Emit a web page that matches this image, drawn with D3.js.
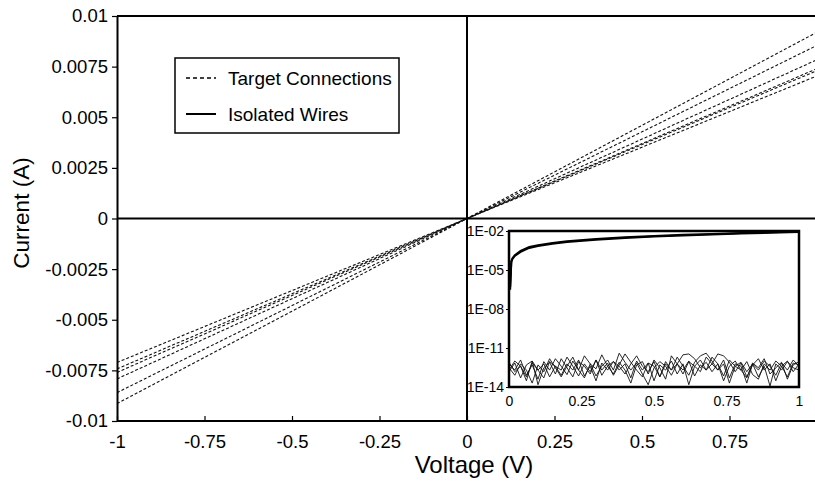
<!DOCTYPE html>
<html>
<head>
<meta charset="utf-8">
<script src="https://cdn.jsdelivr.net/npm/d3@7"></script>
<style>
  body { margin: 0; background: #fff; }
  text { font-family: "Liberation Sans", Arial, sans-serif; fill: #000; }
</style>
</head>
<body>
<svg id="chart"></svg>
<script>
// main I-V data: voltages and currents (A) for the six target connections
const mainV = [-1, -0.5, 0, 0.5, 1];
const target1 = [-0.00914, -0.00458, 0, 0.0046, 0.0092];
const target2 = [-0.0086, -0.0043, 0, 0.00428, 0.00855];
const target3 = [-0.00792, -0.00396, 0, 0.00392, 0.00784];
const target4 = [-0.0076, -0.0038, 0, 0.0037, 0.0074];
const target5 = [-0.00743, -0.00372, 0, 0.00365, 0.0073];
const target6 = [-0.00711, -0.00356, 0, 0.00352, 0.00704];

// axis ticks
const xTicks = [-1, -0.75, -0.5, -0.25, 0, 0.25, 0.5, 0.75];
const xTickLabels = ["-1", "-0.75", "-0.5", "-0.25", "0", "0.25", "0.5", "0.75"];
const yTicks = [0.01, 0.0075, 0.005, 0.0025, 0, -0.0025, -0.005, -0.0075, -0.01];
const yTickLabels = ["0.01", "0.0075", "0.005", "0.0025", "0", "-0.0025", "-0.005", "-0.0075", "-0.01"];

// inset (log scale): target connections near the top
const insetV = [0.004, 0.008, 0.012, 0.02, 0.04, 0.07, 0.1, 0.15, 0.2, 0.3, 0.4, 0.5, 0.6, 0.7, 0.8, 0.9, 1.0];
const insetTopA = [3e-7, 4e-5, 7e-5, 1.2e-4, 2.5e-4, 5e-4, 7e-4, 1.05e-3, 1.4e-3, 2.1e-3, 2.9e-3, 3.7e-3, 4.5e-3, 5.4e-3, 6.3e-3, 7.2e-3, 8.2e-3];
const insetTopB = [5e-7, 5e-5, 8e-5, 1.4e-4, 3e-4, 5.8e-4, 8e-4, 1.2e-3, 1.6e-3, 2.4e-3, 3.3e-3, 4.2e-3, 5.1e-3, 6e-3, 7e-3, 8e-3, 9e-3];

// inset: isolated wires, noise floor, sampled every 0.02 V from 0 to 1
const noise1 = [3e-13, 8e-14, 6e-13, 2e-13, 2e-14, 5e-13, 1.5e-13, 1.5e-12, 3e-13, 6e-14,
  4e-13, 2e-12, 2e-13, 5e-14, 6e-13, 2.5e-13, 3e-12, 4e-13, 1e-13, 8e-13,
  2e-13, 2e-14, 5e-13, 9e-13, 1e-13, 1.2e-12, 3e-13, 4e-14, 2.5e-12, 6e-13,
  2e-13, 1e-12, 7e-14, 5e-13, 2e-13, 2e-12, 6e-13, 3e-14, 4e-13, 1e-12,
  2e-13, 5e-14, 7e-13, 3e-13, 1.5e-12, 1e-13, 3e-13, 8e-13, 4e-14, 5e-13, 9e-13];
const noise2 = [1.5e-13, 7e-13, 5e-14, 5e-13, 1e-12, 1.5e-14, 3e-13, 8e-13, 1e-13, 1.5e-12,
  3e-13, 6e-14, 9e-13, 4e-13, 1e-13, 1.2e-12, 2e-13, 7e-13, 8e-14, 5e-13,
  3.5e-12, 8e-13, 2e-13, 6e-14, 7e-13, 3e-14, 5e-13, 2e-13, 1e-12, 1e-13,
  6e-13, 1.5e-14, 4e-13, 1.2e-12, 2e-13, 6e-13, 3.5e-12, 2.5e-12, 8e-13, 1.5e-13,
  7e-13, 6e-14, 5e-13, 1.5e-12, 2e-13, 6e-13, 3e-14, 4e-13, 1e-12, 1.5e-13, 6e-13];
const noise3 = [6e-13, 2e-13, 1.2e-12, 8e-14, 5e-13, 4e-14, 9e-13, 2e-13, 1.5e-12, 4e-13,
  9e-14, 1e-12, 2e-13, 2.5e-12, 6e-13, 7e-14, 4e-13, 1.2e-12, 2e-13, 4e-12,
  8e-13, 2e-13, 7e-13, 1e-13, 1.5e-14, 3e-13, 9e-13, 4e-13, 8e-14, 6e-13,
  3e-12, 3.5e-12, 1.5e-12, 3e-13, 8e-13, 1.5e-13, 6e-13, 7e-14, 1.2e-12, 4e-13,
  2e-13, 9e-13, 9e-14, 4e-14, 6e-13, 2e-13, 1e-12, 4e-13, 6e-14, 7e-13, 5e-13];
const noise4 = [2e-13, 1e-12, 4e-13, 6e-14, 7e-13, 2e-13, 5e-14, 9e-13, 4e-13, 8e-14,
  6e-13, 2e-13, 1.2e-12, 7e-14, 4e-13, 3e-14, 7e-13, 2e-13, 9e-13, 4e-13,
  1e-13, 6e-13, 2.5e-12, 4e-13, 1.5e-13, 9e-13, 6e-14, 6e-13, 2e-13, 2e-12,
  4e-13, 8e-14, 8e-13, 2.5e-12, 4e-12, 1e-12, 2e-13, 6e-13, 2e-14, 4e-13,
  8e-13, 1.5e-13, 6e-13, 6e-14, 4e-13, 1.2e-14, 6e-13, 2e-13, 9e-13, 3e-13, 2e-13];
const noise5 = [8e-13, 1.5e-13, 4e-13, 3e-14, 1e-12, 2e-13, 6e-13, 6e-14, 4e-13, 2e-13,
  2e-12, 4e-13, 7e-14, 6e-13, 1.5e-13, 1.2e-12, 8e-14, 4e-13, 9e-13, 2e-13,
  6e-13, 5e-14, 1e-12, 2e-13, 7e-13, 4e-13, 6e-14, 9e-13, 2e-13, 6e-13,
  1e-13, 9e-13, 4e-13, 1.5e-13, 2e-12, 6e-13, 2e-13, 1.2e-12, 5e-14, 6e-13,
  4e-13, 2e-14, 6e-13, 2e-13, 1e-12, 4e-13, 8e-14, 7e-13, 2e-13, 1.2e-12, 4e-13];
const noiseV = d3.range(51).map(i => i * 0.02);

const insetYTicks = [1e-2, 1e-5, 1e-8, 1e-11, 1e-14];
const insetYTickLabels = ["1E-02", "1E-05", "1E-08", "1E-11", "1E-14"];
const insetXTicks = [0, 0.25, 0.5, 0.75, 1];
const insetXTickLabels = ["0", "0.25", "0.5", "0.75", "1"];

const legendLabels = ["Target Connections", "Isolated Wires"];

// dimensions
const width = 815;
const height = 484;
const plot = {left: 117, right: 815, top: 16, bottom: 421};
const inset = {left: 509, right: 799, top: 231, bottom: 387};

const svg = d3.select('#chart')
  .attr('width', width)
  .attr('height', height);

// scales
const xScale = d3.scaleLinear().domain([-1, 1]).range([plot.left, 817]);
const yScale = d3.scaleLinear().domain([-0.01, 0.01]).range([plot.bottom, plot.top]);

svg.append('clipPath').attr('id', 'plot-clip')
  .append('rect')
  .attr('x', plot.left).attr('y', plot.top)
  .attr('width', plot.right - plot.left).attr('height', plot.bottom - plot.top);

// dashed target lines
const targets = [target1, target2, target3, target4, target5, target6];
const mainLine = d3.line()
  .x((d, i) => xScale(mainV[i]))
  .y(d => yScale(d));

svg.append('g')
  .attr('clip-path', 'url(#plot-clip)')
  .selectAll('path')
  .data(targets)
  .enter()
  .append('path')
  .attr('d', mainLine)
  .attr('fill', 'none')
  .attr('stroke', '#111')
  .attr('stroke-width', 1.1)
  .attr('stroke-dasharray', '3,2');

// zero lines and top border
svg.append('line')
  .attr('x1', plot.left).attr('x2', plot.right)
  .attr('y1', yScale(0)).attr('y2', yScale(0))
  .attr('stroke', '#000').attr('stroke-width', 2);
svg.append('line')
  .attr('x1', xScale(0)).attr('x2', xScale(0))
  .attr('y1', plot.top).attr('y2', plot.bottom)
  .attr('stroke', '#000').attr('stroke-width', 2);
svg.append('line')
  .attr('x1', plot.left).attr('x2', plot.right)
  .attr('y1', plot.top).attr('y2', plot.top)
  .attr('stroke', '#000').attr('stroke-width', 2);

// axes
const yAxis = d3.axisLeft(yScale)
  .tickValues(yTicks)
  .tickFormat((d, i) => yTickLabels[i])
  .tickSizeInner(5)
  .tickSizeOuter(0)
  .tickPadding(4);
const yAxisG = svg.append('g')
  .attr('transform', `translate(${plot.left},0)`)
  .call(yAxis);

const xAxis = d3.axisBottom(xScale)
  .tickValues(xTicks)
  .tickFormat((d, i) => xTickLabels[i])
  .tickSizeInner(-5)
  .tickSizeOuter(0)
  .tickPadding(14);
const xAxisG = svg.append('g')
  .attr('transform', `translate(0,${plot.bottom})`)
  .call(xAxis);
xAxisG.select('.domain').attr('d', `M${plot.left},0H${plot.right}`);

[yAxisG, xAxisG].forEach(g => {
  g.select('.domain').attr('stroke', '#000').attr('stroke-width', 2);
  g.selectAll('.tick line').attr('stroke', '#000').attr('stroke-width', 1.2);
  g.selectAll('.tick text')
    .attr('font-family', '"Liberation Sans", Arial, sans-serif')
    .attr('font-size', 18.5)
    .attr('fill', '#000');
});

// axis titles
svg.append('text')
  .attr('x', 474)
  .attr('y', 473)
  .attr('text-anchor', 'middle')
  .attr('font-size', 24)
  .text('Voltage (V)');
svg.append('text')
  .attr('transform', 'translate(29,213) rotate(-90)')
  .attr('text-anchor', 'middle')
  .attr('font-size', 22.5)
  .text('Current (A)');

// legend
const legend = svg.append('g');
legend.append('rect')
  .attr('x', 175).attr('y', 58)
  .attr('width', 224).attr('height', 75)
  .attr('fill', '#fff')
  .attr('stroke', '#000')
  .attr('stroke-width', 1.5);
const legendItems = legend.selectAll('.legend-item')
  .data(legendLabels)
  .enter().append('g')
  .attr('class', 'legend-item')
  .attr('transform', (d, i) => `translate(0,${78 + i * 36})`);
legendItems.append('line')
  .attr('x1', 186).attr('x2', 216)
  .attr('y1', 0).attr('y2', 0)
  .attr('stroke', '#000')
  .attr('stroke-width', (d, i) => i === 0 ? 1.3 : 2)
  .attr('stroke-dasharray', (d, i) => i === 0 ? '4,3' : null);
legendItems.append('text')
  .attr('x', 228)
  .attr('y', 0)
  .attr('dy', '.35em')
  .attr('font-size', 19)
  .text(d => d);

// inset
const ix = d3.scaleLinear().domain([0, 1]).range([inset.left, inset.right]);
const iy = d3.scaleLog().domain([1e-14, 1e-2]).range([inset.bottom, inset.top]);

svg.append('rect')
  .attr('x', inset.left).attr('y', inset.top)
  .attr('width', inset.right - inset.left).attr('height', inset.bottom - inset.top)
  .attr('fill', '#fff');

svg.append('clipPath').attr('id', 'inset-clip')
  .append('rect')
  .attr('x', inset.left).attr('y', inset.top)
  .attr('width', inset.right - inset.left).attr('height', inset.bottom - inset.top);

const insetG = svg.append('g').attr('clip-path', 'url(#inset-clip)');

const noiseLine = d3.line()
  .x((d, i) => ix(noiseV[i]))
  .y(d => iy(d));
insetG.selectAll('.noise')
  .data([noise1, noise2, noise3, noise4, noise5])
  .enter()
  .append('path')
  .attr('class', 'noise')
  .attr('d', noiseLine)
  .attr('fill', 'none')
  .attr('stroke', '#111')
  .attr('stroke-width', 0.9);

const topLine = d3.line()
  .x((d, i) => ix(insetV[i]))
  .y(d => iy(d));
insetG.selectAll('.top')
  .data([insetTopA, insetTopB])
  .enter()
  .append('path')
  .attr('class', 'top')
  .attr('d', topLine)
  .attr('fill', 'none')
  .attr('stroke', '#000')
  .attr('stroke-width', 2);

svg.append('rect')
  .attr('x', inset.left).attr('y', inset.top)
  .attr('width', inset.right - inset.left).attr('height', inset.bottom - inset.top)
  .attr('fill', 'none')
  .attr('stroke', '#000')
  .attr('stroke-width', 2.5);

const insetYAxis = d3.axisLeft(iy)
  .tickValues(insetYTicks)
  .tickFormat((d, i) => insetYTickLabels[i])
  .tickSizeInner(3)
  .tickSizeOuter(0)
  .tickPadding(2);
const insetXAxis = d3.axisBottom(ix)
  .tickValues(insetXTicks)
  .tickFormat((d, i) => insetXTickLabels[i])
  .tickSizeInner(0)
  .tickSizeOuter(0)
  .tickPadding(9);

const insetYG = svg.append('g')
  .attr('transform', `translate(${inset.left},0)`)
  .call(insetYAxis);
const insetXG = svg.append('g')
  .attr('transform', `translate(0,${inset.bottom})`)
  .call(insetXAxis);

[insetYG, insetXG].forEach(g => {
  g.select('.domain').remove();
  g.selectAll('.tick line').attr('stroke', '#000');
  g.selectAll('.tick text')
    .attr('font-family', '"Liberation Sans", Arial, sans-serif')
    .attr('font-size', 14)
    .attr('fill', '#000');
});
</script>
</body>
</html>
